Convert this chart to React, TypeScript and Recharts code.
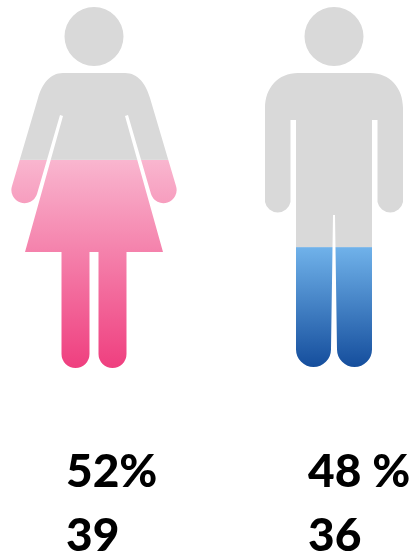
import { BarChart, Bar, XAxis, YAxis, Cell } from 'recharts';

const CATEGORIES = ['Women', 'Men'];
const SHARE_LABELS = ['52%', '48 %'];
const COUNT_LABELS = ['39', '36'];
// how far up each figure is coloured, in % of its height
const FILL_LEVELS = [57.5, 33.4];

const GREY = '#d9d9d9';
const GRADIENTS = [
  { id: 'womanFill', top: '#f9b6cf', bottom: '#ef3f7f' },
  { id: 'manFill', top: '#70b2ea', bottom: '#144d9c' },
];

// silhouettes, x relative to the centre of the bar, y from the top of the chart
const HEAD = 'M-29.5 36.5a29.5 29.5 0 1 0 59 0a29.5 29.5 0 1 0 -59 0Z';
const OUTLINES = [
  HEAD +
    'M-31 73L31 73C44 73 52 84 56 98L82 186A13 13 0 0 1 57 194L34 115L31 116L69 252L32.5 252L32.5 354A14 14 0 0 1 4.5 354L4.5 252L-4.5 252L-4.5 354A14 14 0 0 1 -32.5 354L-32.5 252L-69 252L-31 116L-34 115L-57 194A13 13 0 0 1 -82 186L-56 98C-52 84 -44 73 -31 73Z',
  HEAD +
    'M-36 73L36 73C56 73 69 88 69 108L69 202A13 13 0 0 1 43.5 202L43.5 120L38 120L38 349.5A17.5 17.5 0 0 1 3 349.5L1 215L-1 215L-3 349.5A17.5 17.5 0 0 1 -38 349.5L-38 120L-43.5 120L-43.5 202A13 13 0 0 1 -69 202L-69 108C-69 88 -56 73 -36 73Z',
];

const DATA = CATEGORIES.map((name, i) => ({
  name,
  filled: FILL_LEVELS[i],
  rest: 100 - FILL_LEVELS[i],
}));

const FigureSlice = (props: any) => {
  const { x, y, width, height, index, fill } = props;
  const clipId = `figure-${index}-${fill === GREY ? 'rest' : 'filled'}`;
  return (
    <g>
      <clipPath id={clipId}>
        <path d={OUTLINES[index]} transform={`translate(${x + width / 2},0)`} />
      </clipPath>
      <rect x={x} y={y} width={width} height={height} fill={fill} clipPath={`url(#${clipId})`} />
    </g>
  );
};

const LabelTick = (props: any) => {
  const { x, index } = props;
  const style = { fontFamily: 'Lato', fontWeight: 900, fontSize: 46, fill: '#000' };
  const left = x - (index === 0 ? 28 : 26);
  return (
    <g>
      <text x={left} y={487} {...style}>{SHARE_LABELS[index]}</text>
      <text x={left} y={551} {...style}>{COUNT_LABELS[index]}</text>
    </g>
  );
};

export default function App() {
  return (
    <div style={{ position: 'fixed', left: 0, top: 0, width: 416, height: 554, overflow: 'hidden', background: '#fff', filter: 'blur(0.6px)' }}>
      <div style={{ marginLeft: -26 }}>
        <BarChart width={480} height={554} data={DATA} barSize={170} margin={{ top: 6, right: 0, bottom: 0, left: 0 }}>
          <defs>
            {GRADIENTS.map((g) => (
              <linearGradient key={g.id} id={g.id} x1="0" y1="0" x2="0" y2="1">
                <stop offset="0%" stopColor={g.top} />
                <stop offset="100%" stopColor={g.bottom} />
              </linearGradient>
            ))}
          </defs>
          <XAxis dataKey="name" height={186} axisLine={false} tickLine={false} interval={0} tick={<LabelTick />} />
          <YAxis hide domain={[0, 100]} />
          <Bar dataKey="filled" stackId="person" shape={<FigureSlice />} isAnimationActive={false}>
            {GRADIENTS.map((g) => (
              <Cell key={g.id} fill={`url(#${g.id})`} />
            ))}
          </Bar>
          <Bar dataKey="rest" stackId="person" fill={GREY} shape={<FigureSlice />} isAnimationActive={false} />
        </BarChart>
      </div>
    </div>
  );
}
